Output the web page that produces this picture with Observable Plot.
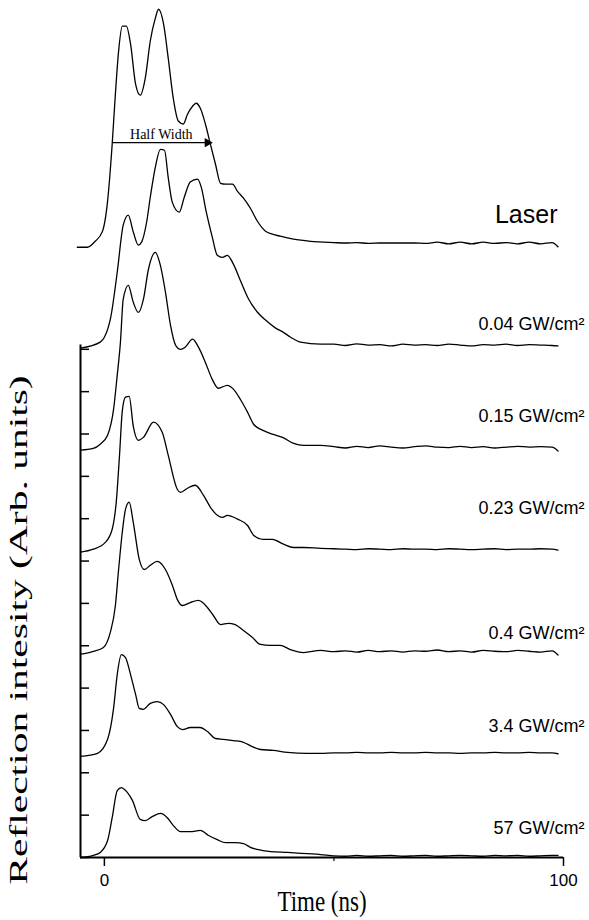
<!DOCTYPE html>
<html><head><meta charset="utf-8">
<script src="https://cdn.jsdelivr.net/npm/d3@7"></script>
<script src="https://cdn.jsdelivr.net/npm/@observablehq/plot@0.6"></script>
<style>body{margin:0;background:#fff} svg{display:block}</style>
</head><body><div id="chart"></div>
<script>
// ---- data (time in ns, intensity in arbitrary units; one y tick = 10 units) ----
const seriesNames = ["Laser", "0.04 GW/cm²", "0.15 GW/cm²", "0.23 GW/cm²", "0.4 GW/cm²", "3.4 GW/cm²", "57 GW/cm²"];
const offsets = [144.6, 120.5, 96.4, 72.3, 48.2, 24.1, 0];
const labelY = [151.8, 125.9, 104.2, 82.5, 53.0, 31.0, 6.9];

const laserT = [-5.9,-3.7,-2.0,-0.4,0.7,1.7,2.4,3.1,3.9,4.8,5.7,6.8,7.8,8.9,10.0,11.1,11.8,12.9,13.9,15.0,16.1,17.2,18.1,19.2,20.0,20.9,22.0,23.1,24.2,25.3,26.4,27.9,29.0,30.3,31.8,33.3,35.1,36.6,38.3,41.2,44.9];
const laserV = [-0.5,-0.5,0.9,3.3,10.4,23.8,35.7,45.8,51.7,51.7,47.5,38.0,35.4,39.4,48.2,53.6,55.7,52.2,44.2,34.7,29.3,28.6,30.9,32.8,33.5,32.3,28.6,23.8,19.1,14.6,14.4,14.4,12.7,11.1,8.7,5.7,3.3,2.6,2.1,1.4,0.9];

const g004T = [-5.2,-0.9,1.3,2.8,4.1,5.2,6.3,7.4,8.1,9.2,10.0,11.1,12.2,13.1,13.9,14.8,16.3,17.4,18.7,20.3,21.1,22.2,23.5,24.6,25.7,26.8,28.1,29.6,31.2,33.3,35.1,37.3,39.0,40.5,42.7,47.1];
const g004V = [-0.2,1.2,6.6,17.7,28.8,31.2,27.2,24.1,24.8,29.5,35.4,42.5,46.7,46.5,40.1,34.2,31.9,35.4,39.0,39.7,37.8,31.9,26.0,21.7,21.2,21.7,19.6,15.8,11.8,8.3,6.4,4.5,3.5,2.4,1.2,0.7];

const g015T = [-5.2,-2.4,-0.9,0.7,2.0,2.8,3.5,4.1,5.2,6.3,7.4,8.5,9.6,11.1,12.2,13.3,14.4,15.5,16.6,17.6,19.2,20.5,22.0,23.5,24.8,26.8,28.1,29.6,31.2,32.5,34.4,36.8,38.8,41.2,43.4,47.1];
const g015V = [-0.2,0.2,1.2,3.3,9.4,17.5,25.3,35.4,38.7,34.7,32.3,35.4,42.5,46.5,43.4,37.1,29.3,24.6,23.6,24.1,26.0,24.1,20.5,16.5,14.4,15.1,14.2,11.8,8.7,5.9,4.5,3.5,2.8,1.4,0.9,0.9];

const g023T = [-5.2,-2.4,0.2,1.7,2.6,3.3,3.9,4.6,5.4,6.3,7.4,8.5,10.7,12.6,13.9,15.9,16.6,18.1,19.8,21.6,23.1,24.6,25.7,26.8,29.0,31.2,32.5,34.6,36.6,39.0,41.2,43.4,47.1];
const g023V = [-0.2,0.5,2.1,5.2,11.8,22.7,33.1,36.4,36.6,29.5,26.2,26.9,30.5,28.1,22.7,14.6,13.9,14.9,15.6,13.2,10.4,8.5,8.0,8.5,7.6,6.1,3.8,2.8,2.8,1.7,0.9,0.9,0.7];

const g04T = [-5.2,-2.4,-0.2,1.3,2.4,3.1,3.9,4.6,5.4,6.3,7.6,8.7,10.0,11.5,13.3,14.8,15.9,17.0,18.7,20.5,22.4,23.7,25.3,27.0,28.5,30.3,32.2,34.0,36.2,38.3,40.5,43.4,47.1];
const g04V = [-0.2,0.5,1.4,5.0,11.3,19.8,28.6,34.0,35.7,30.9,22.2,19.8,20.8,21.7,19.8,16.1,12.7,11.3,12.0,12.5,10.9,9.0,6.8,7.1,6.8,5.4,3.8,2.1,1.9,1.9,0.9,0.2,0.7];

const g34T = [-5.2,-1.5,0.7,2.0,2.8,3.7,4.6,5.7,6.8,7.6,8.5,10.0,11.5,12.9,14.4,15.9,17.0,18.7,20.9,22.4,24.2,25.9,28.1,30.3,32.2,34.0,36.8,39.9,44.2,47.1];
const g34V = [-0.2,0.5,3.8,11.1,19.1,23.8,23.1,19.1,14.4,11.1,10.9,12.3,12.7,12.0,9.7,6.8,6.1,6.6,6.6,5.7,4.0,3.8,3.5,3.1,2.1,1.4,1.2,0.7,0.5,0.5];

const g57T = [-5.2,-2.4,-0.9,0.7,1.7,2.8,3.7,4.1,6.1,7.8,8.9,10.5,12.2,13.7,15.0,16.6,18.7,20.9,22.7,24.6,26.4,28.5,30.3,31.8,33.3,36.2,39.9,44.2,47.1];
const g57V = [0,0.5,1.2,4.0,9.4,15.8,16.5,16.3,13.5,9.0,8.7,9.7,10.4,9.4,7.6,6.1,6.1,6.4,5.2,4.2,3.5,3.5,3.3,2.4,1.9,1.4,1.2,0.9,0.7];

// flat noisy tails after 50 ns
const tailT = [50,52.5,55,57.5,60,62.5,65,67.5,70,72.5,75,77.5,80,82.5,85,87.5,90,92.5,95,97.5,98.8];
const laserTail = [0.6,0.5,0.6,0.4,0.5,0.5,0.5,0.5,0.4,0.7,0.3,0.7,0.3,0.7,0.4,0.6,0.3,0.7,0.3,0.6,-0.4];
const g004Tail = [0.7,0.4,0.8,0.5,0.6,0.3,0.7,0.5,0.6,0.4,0.7,0.5,0.3,0.6,0.5,0.7,0.4,0.6,0.5,0.4,0.3];
const g015Tail = [0.6,0.3,0.7,0.4,0.8,0.5,0.3,0.6,0.8,0.5,0.4,0.7,0.4,0.6,0.3,0.5,0.7,0.5,0.6,0.5,-0.4];
const g023Tail = [0.6,0.5,0.4,0.6,0.5,0.4,0.6,0.5,0.5,0.4,0.6,0.5,0.4,0.5,0.6,0.4,0.5,0.5,0.6,0.5,0.3];
const g04Tail = [0.4,0.6,0.3,0.7,0.4,0.6,0.3,0.6,0.5,0.8,0.4,0.6,0.3,0.7,0.5,0.4,0.7,0.5,0.3,0.6,-0.4];
const g34Tail = [0.6,0.6,0.7,0.6,0.6,0.7,0.6,0.6,0.7,0.6,0.6,0.5,0.6,0.6,0.7,0.6,0.6,0.7,0.6,0.6,0.4];
const g57Tail = [0.4,0.3,0.5,0.3,0.4,0.5,0.3,0.4,0.5,0.3,0.4,0.5,0.4,0.3,0.5,0.4,0.5,0.3,0.4,0.5,0.5];

// half-width annotation on the laser pulse
const halfWidthT = [1.7, 23.1];
const halfWidthLevel = 24.2;
const halfWidthText = "Half Width";

// axes
const xStart = -5.2, xEnd = 100;
const xTicksLabeled = [0, 100];
const xTicksMinor = [50];
const yTicks = [0,10,20,30,40,50,60,70,80,90,100,110,120];
const yAxisTop = 121;
const xTitle = "Time (ns)";
const yTitle = "Reflection intesity (Arb. units)";

// ---- build table ----
const seriesT = [laserT, g004T, g015T, g023T, g04T, g34T, g57T];
const seriesV = [laserV, g004V, g015V, g023V, g04V, g34V, g57V];
const tails = [laserTail, g004Tail, g015Tail, g023Tail, g04Tail, g34Tail, g57Tail];
const rows = [];
seriesNames.forEach((name, k) => {
  const T = seriesT[k].concat(tailT), V = seriesV[k].concat(tails[k]);
  T.forEach((t, i) => rows.push({series: name, t, y: offsets[k] + V[i]}));
});
const labels = seriesNames.map((name, k) => ({name, y: labelY[k], x: xEnd}));
const hw = [{x1: halfWidthT[0], x2: halfWidthT[1], y: offsets[0] + halfWidthLevel}];

const serif = "'Liberation Serif', 'Times New Roman', serif";
const sans = "'Liberation Sans', Arial, sans-serif";

const chart = Plot.plot({
  width: 589, height: 920,
  marginLeft: 80, marginRight: 26, marginTop: 10, marginBottom: 63,
  x: {domain: [xStart, xEnd]},
  y: {domain: [0, 200]},
  style: {background: "white", color: "black", fontFamily: sans},
  marks: [
    Plot.line(rows, {x: "t", y: "y", z: "series", stroke: "black", strokeWidth: 1.3, curve: "monotone-x"}),
    Plot.ruleY([0], {stroke: "black", strokeWidth: 2}),
    Plot.ruleX([xStart], {y1: 0, y2: yAxisTop, stroke: "black", strokeWidth: 2}),
    Plot.axisY({ticks: yTicks, tickSize: -9, tickFormat: () => "", label: null, strokeWidth: 1.5}),
    Plot.axisX({ticks: xTicksLabeled, tickSize: 9, tickPadding: 7, fontSize: 17, label: null, strokeWidth: 1.5}),
    Plot.axisX({ticks: xTicksMinor, tickSize: 4, tickFormat: () => "", label: null, strokeWidth: 1.2}),
    Plot.text([xTitle], {text: d => d, frameAnchor: "bottom", dy: 44, fontSize: 23, fontFamily: serif, lineAnchor: "middle", className: "xtitle"}),
    Plot.text([yTitle], {text: d => d, frameAnchor: "left", textAnchor: "middle", rotate: -90, dx: -62, dy: 196, fontSize: 25, fontFamily: serif, lineAnchor: "middle", className: "ytitle"}),
    Plot.text(labels.slice(0, 1), {x: "x", y: "y", text: "name", textAnchor: "end", dx: -6, fontSize: 25, lineAnchor: "middle"}),
    Plot.text(labels.slice(1), {x: "x", y: "y", text: "name", textAnchor: "end", dx: 21, fontSize: 18, lineAnchor: "middle"}),
    Plot.link(hw, {x1: "x1", x2: "x2", y1: "y", y2: "y", stroke: "black", strokeWidth: 1.2}),
    Plot.dot(hw, {x: "x2", y: "y", symbol: "triangle", rotate: 90, r: 3.5, fill: "black", stroke: null, dx: -3}),
    Plot.text(hw, {x: d => (d.x1 + d.x2) / 2, y: "y", text: () => halfWidthText, fontSize: 14, fontFamily: serif, lineAnchor: "bottom", dy: -4})
  ]
});
document.getElementById("chart").appendChild(chart);

// the reference's serif axis titles are drawn stretched along one direction
const stretch = (cls, sx, sy) => {
  d3.select(chart).selectAll(`g.${cls} text`).each(function() {
    const t = this.getAttribute("transform") || "";
    this.setAttribute("transform", `${t} scale(${sx},${sy})`);
  });
};
stretch("xtitle", 1, 1.3);
stretch("ytitle", 1.66, 1);
</script>
</body></html>
